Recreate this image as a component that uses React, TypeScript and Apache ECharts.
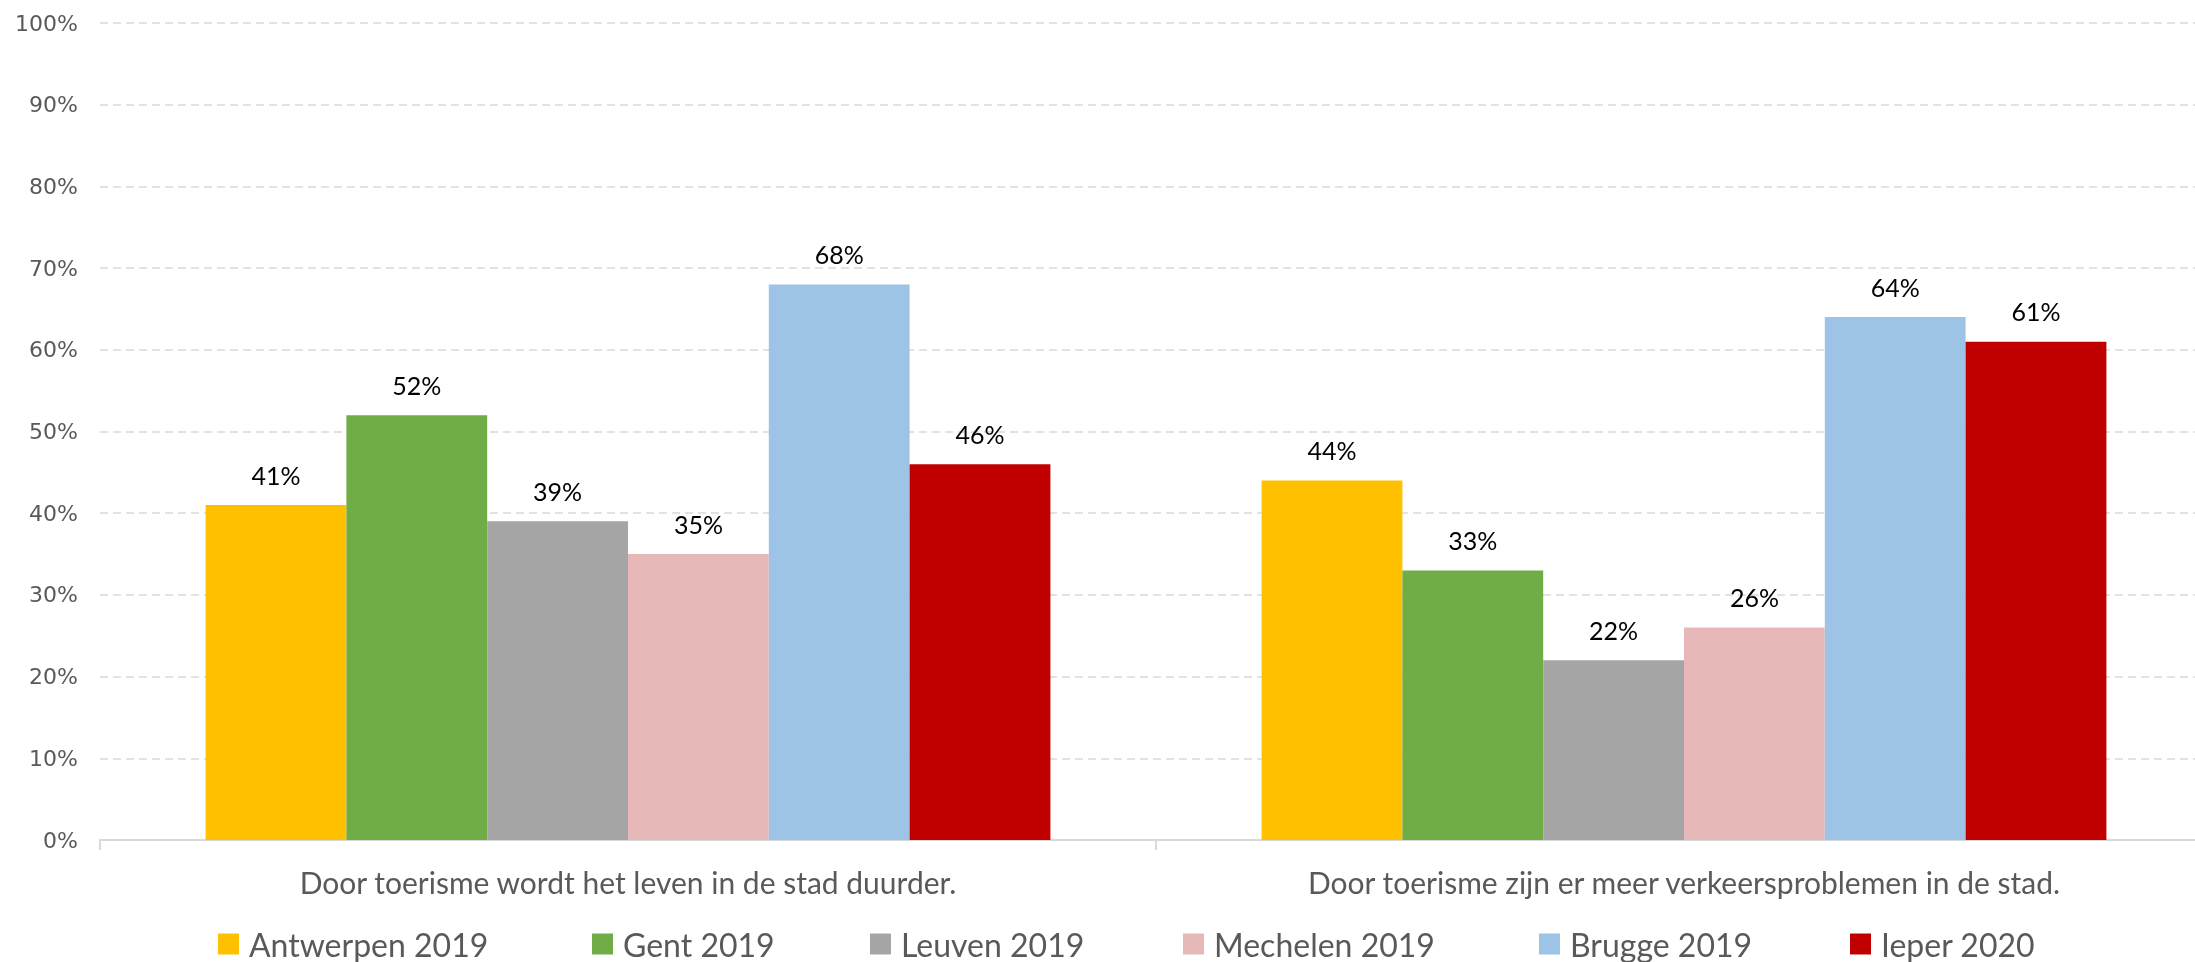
import React, { useEffect, useRef } from "react";
import * as echarts from "echarts";

const categories = [
  "Door toerisme wordt het leven in de stad duurder.",
  "Door toerisme zijn er meer verkeersproblemen in de stad.",
];
const seriesNames = ["Antwerpen 2019", "Gent 2019", "Leuven 2019", "Mechelen 2019", "Brugge 2019", "Ieper 2020"];
const seriesColors = ["#FFC000", "#70AD47", "#A5A5A5", "#E6B9B8", "#9DC3E6", "#C00000"];
const antwerpen = [41, 44];
const gent = [52, 33];
const leuven = [39, 22];
const mechelen = [35, 26];
const brugge = [68, 64];
const ieper = [46, 61];
const seriesValues = [antwerpen, gent, leuven, mechelen, brugge, ieper];
const legendLefts = [218, 592, 870, 1183, 1539, 1850];

export default function App() {
  const ref = useRef<HTMLDivElement>(null);
  useEffect(() => {
    if (!ref.current) return;
    const chart = echarts.init(ref.current, undefined, { renderer: "svg" });
    chart.setOption({
      animation: false,
      grid: { left: 100, top: 23, width: 2112, height: 817, containLabel: false, outerBoundsMode: "none" },
      legend: seriesNames.map((n, i) => ({
        data: [n],
        left: legendLefts[i],
        top: 928,
        padding: 0,
        itemWidth: 21,
        itemHeight: 21,
        icon: "rect",
        selectedMode: false,
        textStyle: { fontFamily: "Lato", fontSize: 32, lineHeight: 32, color: "#595959", padding: [0, 0, 0, 5] },
      })),
      xAxis: {
        type: "category",
        data: categories,
        axisLine: { lineStyle: { color: "#d9d9d9", width: 2 } },
        axisTick: { show: true, length: 10, lineStyle: { color: "#d9d9d9", width: 2 } },
        axisLabel: { fontFamily: "Lato", fontSize: 30, color: "#595959", margin: 27 },
      },
      yAxis: {
        type: "value",
        min: 0,
        max: 100,
        interval: 10,
        axisLine: { show: false },
        axisTick: { show: false },
        axisLabel: { formatter: "{value}%", fontFamily: "DejaVu Sans", fontSize: 22, color: "#595959", margin: 22 },
        splitLine: { lineStyle: { color: "#d9d9d9", type: [8, 5], width: 1.5 } },
      },
      series: seriesNames.map((n, i) => ({
        name: n,
        type: "bar",
        data: seriesValues[i],
        barGap: "0%",
        barCategoryGap: "20%",
        itemStyle: { color: seriesColors[i] },
        label: {
          show: true,
          position: "top",
          distance: 18,
          formatter: "{c}%",
          fontFamily: "Lato",
          fontSize: 25,
          color: "#000000",
        },
      })),
    });
    return () => chart.dispose();
  }, []);
  return <div ref={ref} style={{ position: "fixed", left: 0, top: 0, width: 2195, height: 962 }} />;
}
